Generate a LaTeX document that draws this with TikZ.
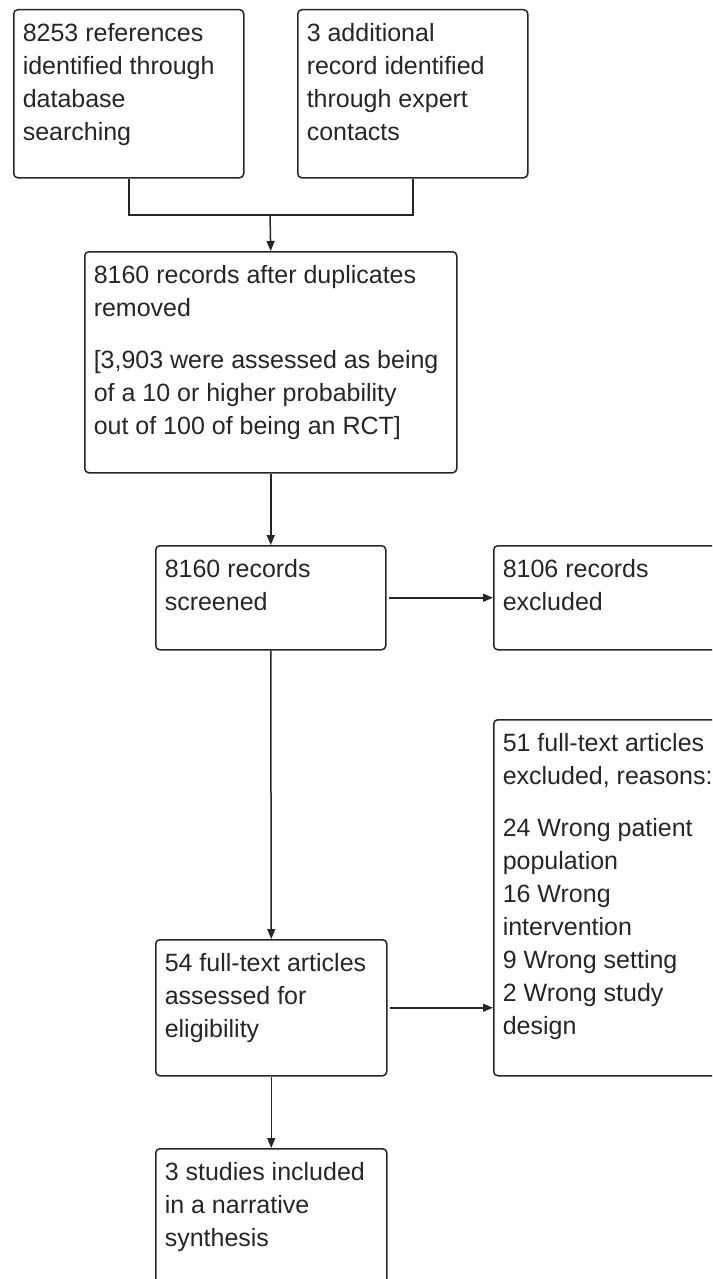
\documentclass[tikz,border=0pt]{standalone}
\usepackage{fontspec}
\setmainfont{Liberation Sans}
\usetikzlibrary{arrows.meta}

\tikzset{
  flowbox/.style={draw=black!85, line width=1.5pt, rounded corners=4pt,
    anchor=north west, inner sep=0pt, text=black!85},
  flowarrow/.style={draw=black!85, line width=1.5pt,
    -{Triangle[length=10pt,width=8pt]}}
}
% width, height (in px), then the lines of the box
\newcommand{\boxtext}[3]{\parbox[c][#2pt][t]{#1pt}{\fontsize{25}{33}\selectfont
  \leftskip=9pt\rule{0pt}{32pt}#3}}

\begin{document}
\begin{tikzpicture}[x=1pt,y=-1pt]
\useasboundingbox (0,0) rectangle (712,1279);
\clip (0,0) rectangle (712,1279);
% identification
\node[flowbox] (refs) at (13,9) {\boxtext{230}{168}{8253 references\\identified through\\database\\searching}};
\node[flowbox] (addl) at (297,9) {\boxtext{230}{168}{3 additional\\record identified\\through expert\\contacts}};
\node[flowbox] (dedup) at (84,251) {\boxtext{372}{221}{8160 records after duplicates\\removed\\[19pt][3,903 were assessed as being\\of a 10 or higher probability\\out of 100 of being an RCT]}};
% screening
\node[flowbox] (screen) at (155,545) {\boxtext{230}{104}{8160 records\\screened}};
\node[flowbox] (excl) at (493,545) {\boxtext{240}{104}{8106 records\\excluded}};
% eligibility
\node[flowbox] (reasons) at (493,719) {\boxtext{240}{356}{51 full-text articles\\excluded, reasons:\\[19pt]24 Wrong patient\\population\\16 Wrong\\intervention\\9 Wrong setting\\2 Wrong study\\design}};
\node[flowbox] (full) at (155,939) {\boxtext{231}{136}{54 full-text articles\\assessed for\\eligibility}};
% included
\node[flowbox] (incl) at (155,1148) {\boxtext{231}{160}{3 studies included\\in a narrative\\synthesis}};

\coordinate (merge) at (270,215);
\draw[draw=black!85, line width=1.5pt] (refs.south) |- (merge) -| (addl.south);
\draw[flowarrow] (merge) -- (dedup.north);
\draw[flowarrow] (dedup.south) -- (screen.north);
\draw[flowarrow] ([xshift=2pt]screen.east) -- (excl.west);
\draw[flowarrow] (screen.south) -- (full.north);
\draw[flowarrow] ([xshift=2pt]full.east) -- (full.east -| reasons.west);
\draw[flowarrow] (full.south) -- (incl.north);
\end{tikzpicture}
\end{document}
